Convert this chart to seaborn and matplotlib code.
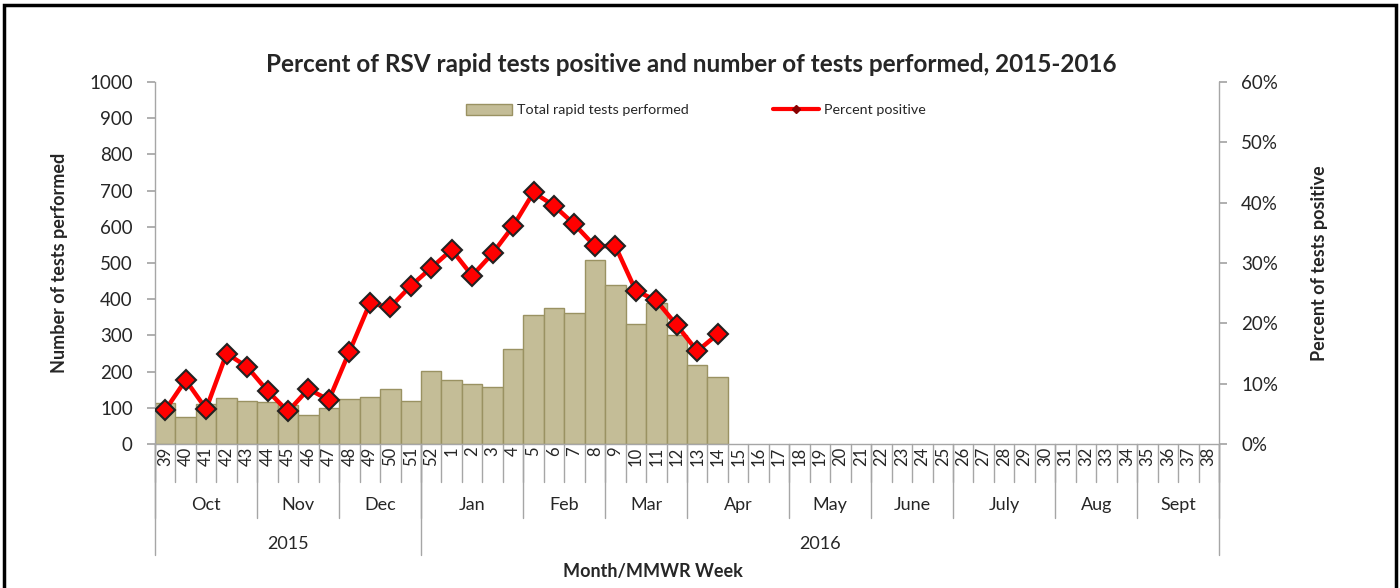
import numpy as np
import pandas as pd
import seaborn as sns
import matplotlib.pyplot as plt
from matplotlib.patches import Patch, Rectangle
from matplotlib.lines import Line2D
from matplotlib.ticker import FuncFormatter

# MMWR weeks shown on the x axis (season 2015-2016)
weeks = ["39", "40", "41", "42", "43", "44", "45", "46", "47", "48", "49", "50", "51", "52",
         "1", "2", "3", "4", "5", "6", "7", "8", "9", "10", "11", "12", "13", "14", "15",
         "16", "17", "18", "19", "20", "21", "22", "23", "24", "25", "26", "27", "28", "29",
         "30", "31", "32", "33", "34", "35", "36", "37", "38"]

# values (weeks 39 .. 14)
tests = [112, 75, 110, 128, 118, 116, 108, 81, 99, 125, 131, 151, 120, 202,
         177, 165, 157, 262, 355, 375, 361, 507, 438, 331, 389, 301, 217, 185]
pct_positive = [5.6, 10.6, 5.8, 15.0, 12.8, 8.8, 5.4, 9.1, 7.3, 15.3, 23.3, 22.7, 26.2, 29.2,
                32.2, 27.9, 31.6, 36.1, 41.7, 39.5, 36.4, 32.8, 32.8, 25.4, 23.8, 19.7, 15.4, 18.2]

months = ["Oct", "Nov", "Dec", "Jan", "Feb", "Mar", "Apr", "May", "June", "July", "Aug", "Sept"]
month_len = [5, 4, 4, 5, 4, 4, 5, 4, 4, 5, 4, 4]
years = ["2015", "2016"]
year_len = [13, 39]

BAR = "#C4BD97"
BAR_EDGE = "#9A9262"
RED = "#FF0000"
GRAY = "#A6A6A6"

sns.set_theme(style="white")
plt.rcParams["font.family"] = ["Lato", "DejaVu Sans"]

df = pd.DataFrame({"week": weeks[:len(tests)], "tests": tests, "pct": pct_positive})
df["pos"] = np.arange(len(df))

fig = plt.figure(figsize=(14, 5.88), dpi=100)
ax = fig.add_axes([0.1107, 0.2449, 0.7600, 0.6156])

sns.barplot(data=df, x="week", y="tests", order=weeks, width=1, color=BAR,
            saturation=1, edgecolor=BAR_EDGE, linewidth=1, ax=ax)
ax.set_xlim(-0.5, len(weeks) - 0.5)
ax.set_ylim(0, 1000)
ax.set_yticks(range(0, 1001, 100))
ax.set_xlabel("")
ax.set_ylabel("")

ax2 = ax.twinx()
sns.lineplot(data=df, x="pos", y="pct", ax=ax2, color=RED, linewidth=3.2,
             marker="D", markersize=10, markerfacecolor=RED,
             markeredgecolor="#222222", markeredgewidth=1.5)
ax2.set_ylim(0, 60)
ax2.set_yticks(range(0, 61, 10))
ax2.yaxis.set_major_formatter(FuncFormatter(lambda v, p: f"{v:.0f}%"))
ax2.set_xlabel("")
ax2.set_ylabel("")
ax.set_xlim(-0.5, len(weeks) - 0.5)

for a in (ax, ax2):
    for s in a.spines.values():
        s.set_visible(False)
ax.spines["left"].set_visible(True)
ax.spines["bottom"].set_visible(True)
ax2.spines["right"].set_visible(True)
for s in (ax.spines["left"], ax.spines["bottom"], ax2.spines["right"]):
    s.set_color(GRAY)
    s.set_linewidth(1)

ax.tick_params(axis="y", length=6, color=GRAY, labelsize=13.5, pad=10, left=True)
ax2.tick_params(axis="y", length=6, color=GRAY, labelsize=13.5, pad=10, right=True)
ax.tick_params(axis="x", length=0, labelsize=12, pad=2, labelrotation=90, bottom=True)

# multi-level category separators below the axis
trans = ax.get_xaxis_transform()
for b in np.arange(len(weeks) + 1) - 0.5:
    ax.plot([b, b], [0, -0.105], transform=trans, clip_on=False, color=GRAY, lw=1)

edges = np.concatenate([[0], np.cumsum(month_len)]) - 0.5
for b in edges:
    ax.plot([b, b], [0, -0.204], transform=trans, clip_on=False, color=GRAY, lw=1)
for i, m in enumerate(months):
    ax.text((edges[i] + edges[i + 1]) / 2, -0.168, m, transform=trans,
            ha="center", va="center", fontsize=13)

yedges = np.concatenate([[0], np.cumsum(year_len)]) - 0.5
for b in yedges:
    ax.plot([b, b], [0, -0.307], transform=trans, clip_on=False, color=GRAY, lw=1)
for i, y in enumerate(years):
    ax.text((yedges[i] + yedges[i + 1]) / 2, -0.276, y, transform=trans,
            ha="center", va="center", fontsize=13)

fig.text(691 / 1400, 1 - 65 / 588, "Percent of RSV rapid tests positive and number of tests performed, 2015-2016",
         ha="center", va="center", fontsize=17.5, fontweight="bold")
fig.text(653 / 1400, 1 - 571 / 588, "Month/MMWR Week", ha="center", va="center",
         fontsize=13, fontweight="bold")
fig.text(60 / 1400, 1 - 263 / 588, "Number of tests performed", ha="center", va="center",
         rotation=90, fontsize=13, fontweight="bold")
fig.text(1320 / 1400, 1 - 263 / 588, "Percent of tests positive", ha="center", va="center",
         rotation=90, fontsize=13, fontweight="bold")

handles = [Patch(facecolor=BAR, edgecolor=BAR_EDGE, label="Total rapid tests performed"),
           Line2D([], [], color=RED, lw=3, marker="D", markersize=4,
                  markerfacecolor="#880000", markeredgecolor="#880000", label="Percent positive")]
fig.legend(handles=handles, loc="center left", bbox_to_anchor=(466 / 1400, 1 - 110 / 588),
           ncol=2, frameon=False, fontsize=10.3, handlelength=3.2, handleheight=0.8,
           handletextpad=0.35, columnspacing=5.9, borderpad=0, borderaxespad=0)

fig.patches.append(Rectangle((4 / 1400, -0.1), 1392 / 1400, 1.1 - 5 / 588,
                             transform=fig.transFigure, fill=False, ec="black", lw=2.5))

fig.savefig("out.png", dpi=100)
